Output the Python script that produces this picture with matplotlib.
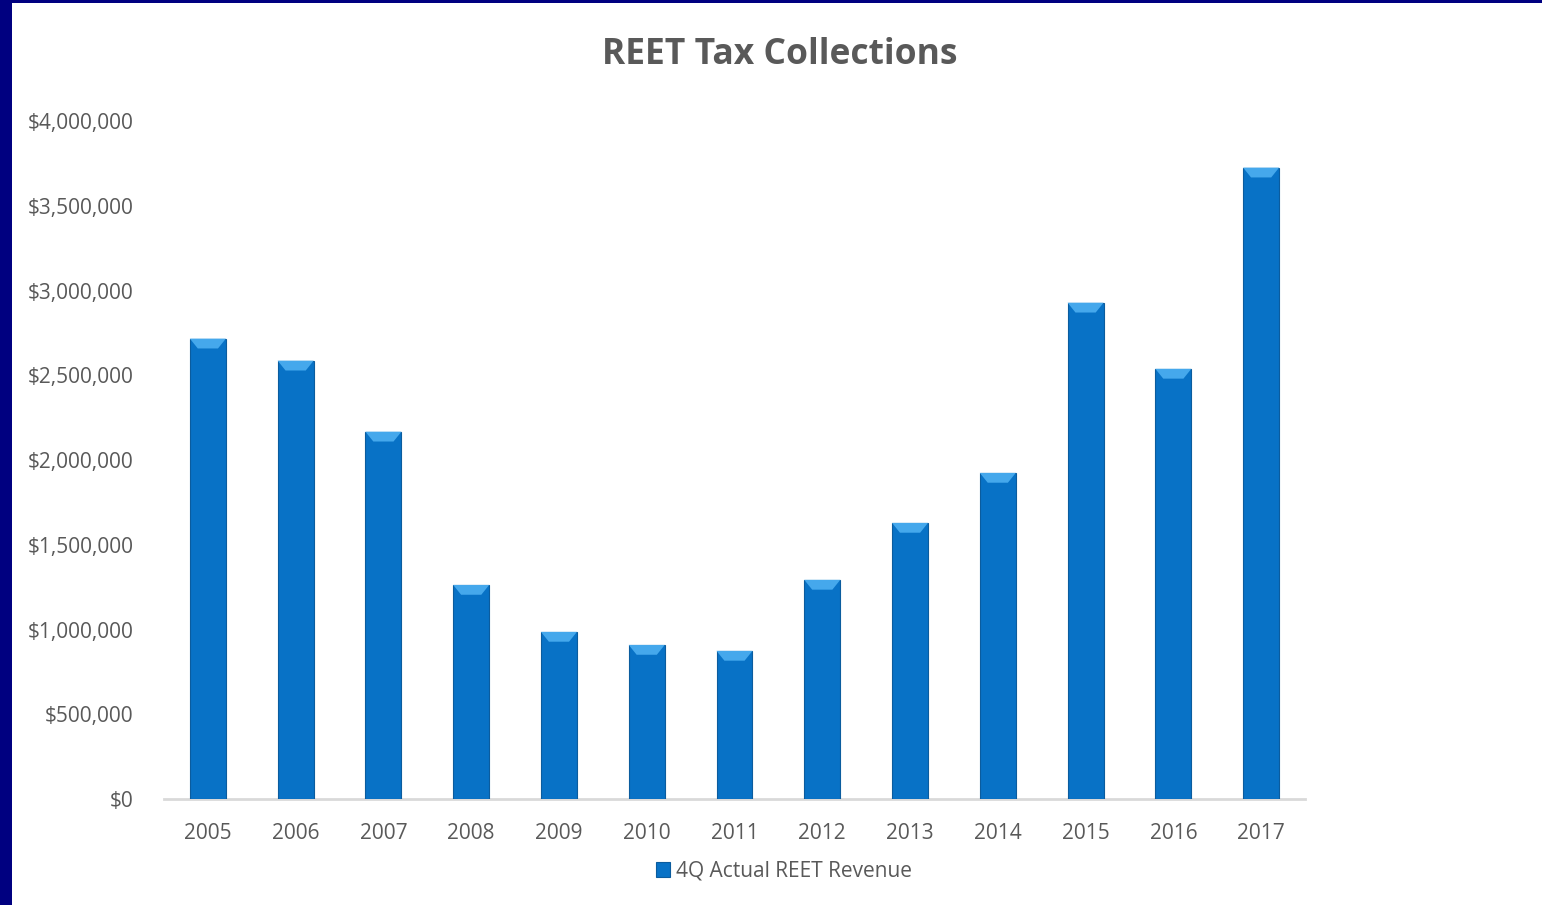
import matplotlib
matplotlib.use("Agg")
import matplotlib.pyplot as plt
from matplotlib.patches import Rectangle, Polygon
from matplotlib.ticker import FuncFormatter

years = ["2005", "2006", "2007", "2008", "2009", "2010", "2011",
         "2012", "2013", "2014", "2015", "2016", "2017"]
revenue = [2716000, 2586000, 2167000, 1263000, 986000, 909000, 874000,
           1293000, 1629000, 1924000, 2928000, 2538000, 3725000]
series_name = "4Q Actual REET Revenue"
title = "REET Tax Collections"

W, H = 1542, 905
fig = plt.figure(figsize=(W / 100, H / 100), dpi=100)
fig.patch.set_facecolor("white")

# navy frame pieces
fig.add_artist(Rectangle((0, 0), 12 / W, 1, transform=fig.transFigure,
                         facecolor="#000080", edgecolor="none", zorder=0))
fig.add_artist(Rectangle((0, 1 - 3 / H), 1, 3 / H, transform=fig.transFigure,
                         facecolor="#000080", edgecolor="none", zorder=0))

left, right = 164 / W, 1305 / W
bottom, top = 1 - 799 / H, 1 - 121 / H
ax = fig.add_axes([left, bottom, right - left, top - bottom])

x = list(range(len(years)))
bw = 0.41
bars = ax.bar(x, revenue, width=bw, color="#0872C6", edgecolor="#0B5C9E",
              linewidth=0.8, zorder=3, label=series_name)

# top bevel highlight
bev_h = 58000
inset = 0.09
for xi, v in zip(x, revenue):
    poly = Polygon([(xi - bw / 2, v), (xi + bw / 2, v),
                    (xi + bw / 2 - inset, v - bev_h), (xi - bw / 2 + inset, v - bev_h)],
                   closed=True, facecolor="#45A8EC", edgecolor="none", zorder=4)
    ax.add_patch(poly)

ax.set_xlim(-0.5, len(years) - 0.5)
ax.set_ylim(0, 4000000)
ax.set_yticks(range(0, 4000001, 500000))
ax.yaxis.set_major_formatter(FuncFormatter(lambda v, p: "${:,.0f}".format(v)))
ax.set_xticks(x)
ax.set_xticklabels(years)

for s in ["top", "right", "left"]:
    ax.spines[s].set_visible(False)
ax.spines["bottom"].set_color("#D9D9D9")
ax.spines["bottom"].set_linewidth(2)
ax.tick_params(axis="both", length=0, labelsize=15, labelcolor="#595959",
               labelfontfamily="Open Sans")
ax.tick_params(axis="y", pad=22)
ax.tick_params(axis="x", pad=17)

fig.text((601 + 958) / 2 / W, 1 - 55 / H, title, ha="center", va="center",
         fontsize=25.5, fontweight="bold", color="#595959", family="Open Sans")

leg = fig.legend(handles=[bars], labels=[series_name], loc="center",
                 bbox_to_anchor=(784 / W, 1 - 871 / H), frameon=False,
                 prop={"family": "Open Sans", "size": 15}, handlelength=0.7,
                 handleheight=0.7, handletextpad=0.3)
for t in leg.get_texts():
    t.set_color("#595959")

fig.savefig("out.png", dpi=100)
